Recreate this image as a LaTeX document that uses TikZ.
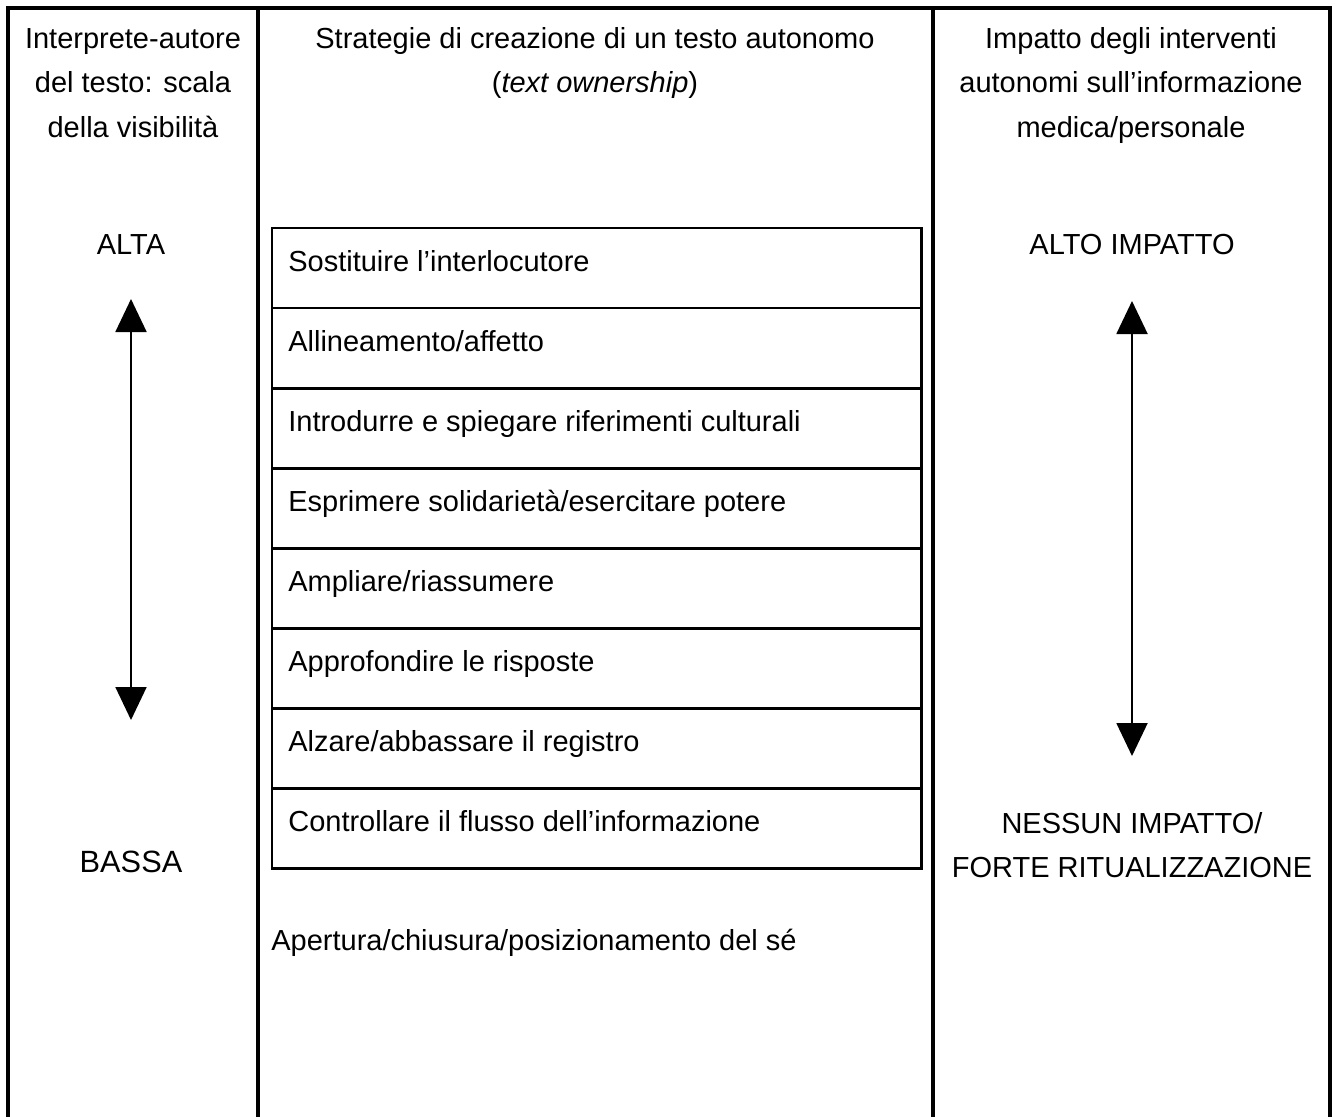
\documentclass[tikz,border=0pt]{standalone}
\usepackage{fontspec}
\setmainfont{Liberation Sans}
\usetikzlibrary{arrows.meta}
\tikzset{
  frame/.style={line width=2.1pt},
  rowbox/.style={line width=1.7pt},
  txt/.style={inner sep=0pt, text height=1.02em, text depth=0pt, font=\fontsize{16.5}{25}\selectfont},
  scalearrow/.style={line width=1.1pt, {Triangle[width=0.62cm,length=0.66cm]}-{Triangle[width=0.62cm,length=0.66cm]}}
}
\begin{document}
\begin{tikzpicture}[x=0.02cm, y=-0.02cm]
  \useasboundingbox (0,0) rectangle (1338,1116);
  % table frame
  \draw[frame] (8,1120) -- (8,8) -- (1330,8) -- (1330,1120);
  \draw[frame] (258,8) -- (258,1120);
  \draw[frame] (933,8) -- (933,1120);
  % headers
  \node[txt] (h1a) at (133,40) {Interprete-autore};
  \node[txt] (h1b) at (133,84) {del testo: scala};
  \node[txt] (h1c) at (133,129) {della visibilità};
  \node[txt] (h2a) at (595,40) {Strategie di creazione di un testo autonomo};
  \node[txt] (h2b) at (595,84) {(\textit{text ownership})};
  \node[txt] (h3a) at (1131,40) {Impatto degli interventi};
  \node[txt] (h3b) at (1131,84) {autonomi sull’informazione};
  \node[txt] (h3c) at (1131,129) {medica/personale};
  % strategies
  \foreach \txt [count=\i] in {Sostituire l’interlocutore, Allineamento/affetto,
      Introdurre e spiegare riferimenti culturali, Esprimere solidarietà/esercitare potere,
      Ampliare/riassumere, Approfondire le risposte, Alzare/abbassare il registro,
      Controllare il flusso dell’informazione}{
    \draw[rowbox] (272,148+80*\i) rectangle (921,228+80*\i);
    \node[txt, anchor=west] (s\i) at (288,183+80*\i) {\txt};
  }
  \node[txt, anchor=west] (open) at (271,942) {Apertura/chiusura/posizionamento del sé};
  % visibility scale
  \node[txt] (alta) at (131,246) {ALTA};
  \node[txt, font=\fontsize{17.5}{25}\selectfont] (bassa) at (131,864) {BASSA};
  \coordinate (visTop) at (131,299);
  \coordinate (visBot) at (131,720);
  \draw[scalearrow] (visTop) -- (visBot);
  % impact scale
  \node[txt] (alto) at (1132,246) {ALTO IMPATTO};
  \node[txt] (nessun) at (1132,825) {NESSUN IMPATTO/};
  \node[txt] (forte) at (1132,869) {FORTE RITUALIZZAZIONE};
  \coordinate (impTop) at (1132,301);
  \coordinate (impBot) at (1132,756);
  \draw[scalearrow] (impTop) -- (impBot);
\end{tikzpicture}
\end{document}
